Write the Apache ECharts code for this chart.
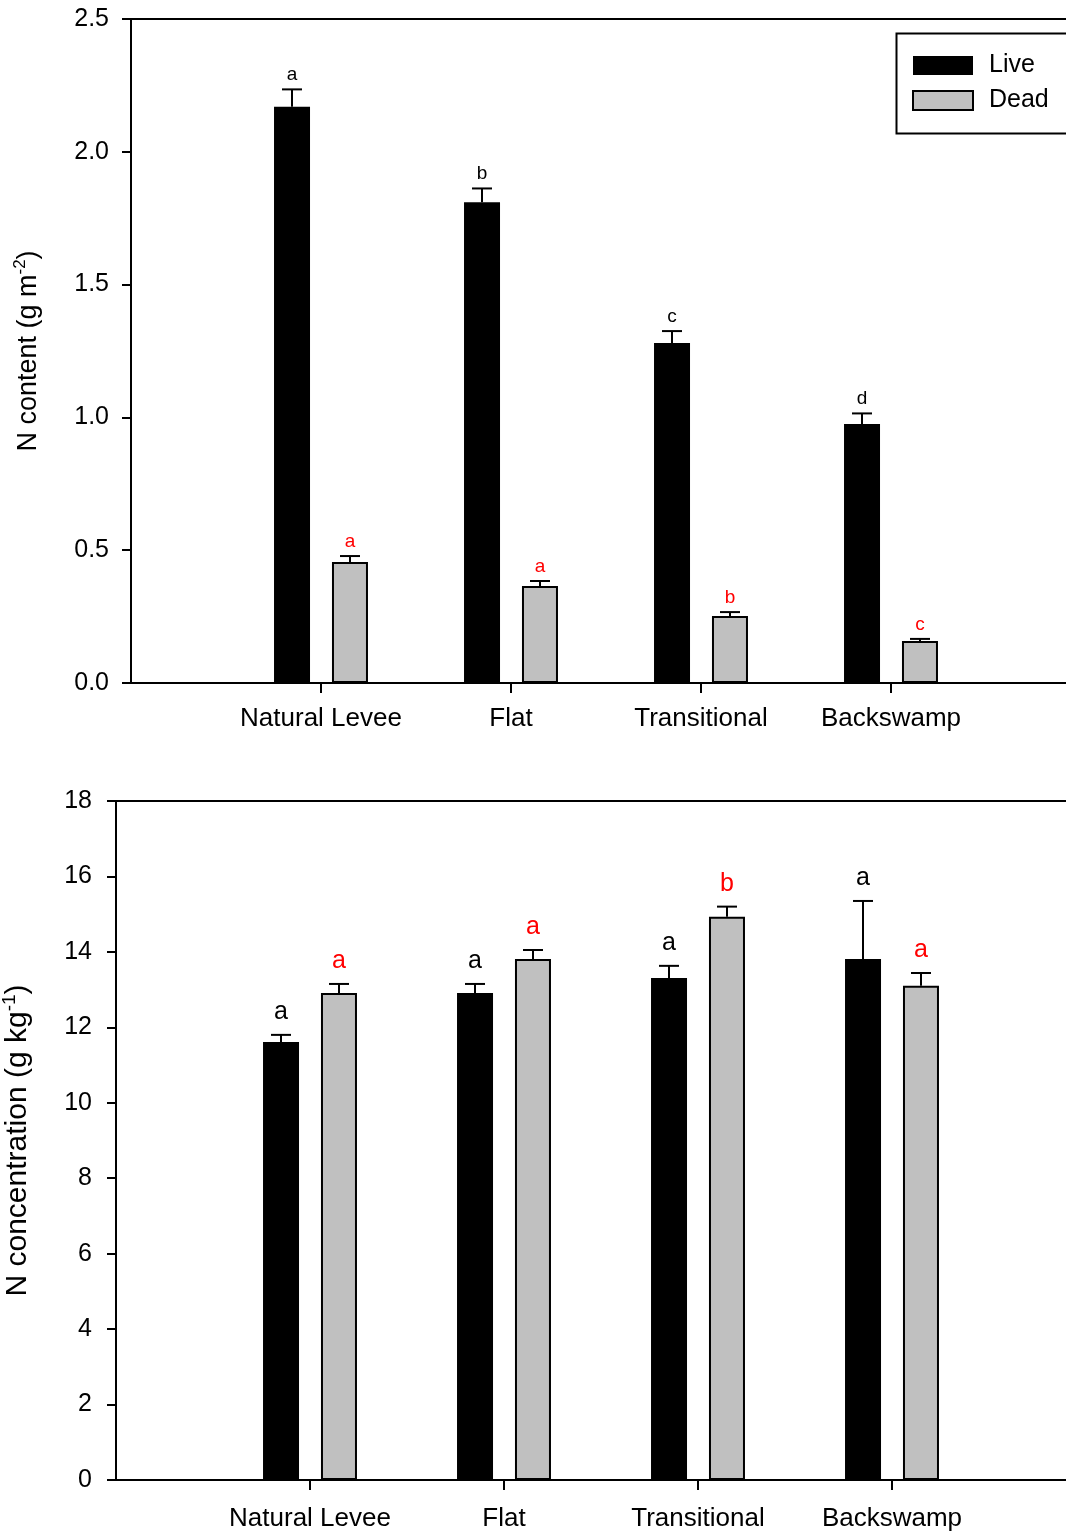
<!DOCTYPE html>
<html>
<head>
<meta charset="utf-8">
<script src="https://cdn.jsdelivr.net/npm/echarts@6/dist/echarts.min.js"></script>
<style>
html,body{margin:0;padding:0;background:#fff;overflow:hidden;}
#chart{width:1066px;height:1534px;}
</style>
</head>
<body>
<div id="chart"></div>
<script>
// ---- data ----
const categories = ['Natural Levee', 'Flat', 'Transitional', 'Backswamp'];
const seriesNames = ['Live', 'Dead'];

// Top panel: N content (g m-2)
const contentLive = [2.17, 1.81, 1.28, 0.975];
const contentLiveErr = [0.065, 0.052, 0.045, 0.040];
const contentDead = [0.456, 0.365, 0.252, 0.158];
const contentDeadErr = [0.022, 0.019, 0.015, 0.008];
const contentLiveLetters = ['a', 'b', 'c', 'd'];
const contentDeadLetters = ['a', 'a', 'b', 'c'];
const contentTicks = [0, 0.5, 1.0, 1.5, 2.0, 2.5];

// Bottom panel: N concentration (g kg-1)
const concLive = [11.61, 12.91, 13.31, 13.81];
const concLiveErr = [0.19, 0.24, 0.32, 1.54];
const concDead = [12.91, 13.81, 14.93, 13.10];
const concDeadErr = [0.24, 0.24, 0.27, 0.34];
const concLiveLetters = ['a', 'a', 'a', 'a'];
const concDeadLetters = ['a', 'a', 'b', 'a'];
const concTicks = [0, 2, 4, 6, 8, 10, 12, 14, 16, 18];

// ---- build ----
const FONT = '"Liberation Sans", Arial, Helvetica, sans-serif';
const axisCats = [''].concat(categories, ['']);
const pad = arr => ['-'].concat(arr, ['-']);

function errSeries(gridIdx, values, errs, letters, offset, letterColor, letterSize, letterGap) {
  return {
    type: 'custom',
    xAxisIndex: gridIdx, yAxisIndex: gridIdx,
    z: 5, clip: false, silent: true,
    data: values.map((v, i) => [i + 1, v, errs[i]]),
    renderItem: function (params, api) {
      const idx = api.value(0);
      const v = api.value(1), e = api.value(2);
      const x = api.coord([idx, 0])[0] + offset;
      const yBar = api.coord([idx, v])[1];
      const yTop = api.coord([idx, v + e])[1];
      return {
        type: 'group',
        children: [
          {type: 'line', shape: {x1: x, y1: yBar, x2: x, y2: yTop}, style: {stroke: '#000', lineWidth: 2}},
          {type: 'line', shape: {x1: x - 10, y1: yTop, x2: x + 10, y2: yTop}, style: {stroke: '#000', lineWidth: 2}},
          {type: 'text', x: x, y: yTop - letterGap,
            style: {text: letters[params.dataIndex], fill: letterColor, font: letterSize + 'px ' + FONT,
              align: 'center', verticalAlign: 'bottom'}}
        ]
      };
    }
  };
}

const barBase = {type: 'bar', barWidth: 36, barGap: '61%'};
const liveStyle = {color: '#000', borderColor: '#000', borderWidth: 0};
const deadStyle = {color: '#c0c0c0', borderColor: '#000', borderWidth: 2};

function xAxisCfg(gridIdx, margin) {
  return {
    type: 'category', gridIndex: gridIdx, data: axisCats, boundaryGap: false,
    axisLine: {lineStyle: {color: '#000', width: 2}},
    axisTick: {length: 10, lineStyle: {color: '#000', width: 2}, interval: (i, v) => v !== '', alignWithLabel: true},
    axisLabel: {color: '#000', fontSize: 26, fontFamily: FONT, margin: margin, interval: 0},
    splitLine: {show: false}
  };
}
function yAxisCfg(gridIdx, ticks, decimals, nameMain, sup, nameGap, nameSize, labelMargin) {
  return {
    type: 'value', gridIndex: gridIdx,
    min: ticks[0], max: ticks[ticks.length - 1], interval: ticks[1] - ticks[0],
    axisLine: {show: true, lineStyle: {color: '#000', width: 2}},
    axisTick: {show: true, length: 9, lineStyle: {color: '#000', width: 2}},
    axisLabel: {color: '#000', fontSize: 25, fontFamily: FONT, margin: labelMargin,
      formatter: v => Number(v).toFixed(decimals)},
    splitLine: {show: false},
    name: '{n|' + nameMain + '}{s|' + sup + '}{n|)}',
    nameLocation: 'middle', nameRotate: 90, nameGap: nameGap,
    nameTextStyle: {
      color: '#000', fontFamily: FONT,
      rich: {
        n: {fontSize: nameSize, fontFamily: FONT, color: '#000', lineHeight: nameSize + 6},
        s: {fontSize: Math.round(nameSize * 0.62), fontFamily: FONT, color: '#000', verticalAlign: 'top', lineHeight: nameSize + 6}
      }
    }
  };
}

const option = {
  backgroundColor: '#fff',
  animation: false,
  textStyle: {fontFamily: FONT},
  legend: {
    data: seriesNames,
    orient: 'vertical', left: 894, top: 31,
    padding: [22, 10, 20, 18],
    icon: 'rect',
    itemWidth: 60, itemHeight: 19, itemGap: 10,
    textStyle: {color: '#000', fontSize: 25, fontFamily: FONT, padding: [0, 0, 0, 11]}
  },
  graphic: [
    {type: 'rect', left: 894, top: 31, shape: {width: 240, height: 100},
      style: {fill: 'none', stroke: '#000', lineWidth: 2}, z: 10, silent: true}
  ],
  grid: [
    {left: 131, top: 19, height: 664, width: 950, outerBoundsMode: 'none', containLabel: false,
      show: true, borderColor: '#000', borderWidth: 2},
    {left: 116, top: 801, height: 679, width: 970, outerBoundsMode: 'none', containLabel: false,
      show: true, borderColor: '#000', borderWidth: 2}
  ],
  xAxis: [xAxisCfg(0, 23), xAxisCfg(1, 26)],
  yAxis: [
    yAxisCfg(0, contentTicks, 1, 'N content (g m', '-2', 86, 27, 22),
    yAxisCfg(1, concTicks, 0, 'N concentration (g kg', '-1', 80, 30, 24)
  ],
  series: [
    Object.assign({}, barBase, {name: 'Live', xAxisIndex: 0, yAxisIndex: 0, data: pad(contentLive), itemStyle: liveStyle}),
    Object.assign({}, barBase, {name: 'Dead', xAxisIndex: 0, yAxisIndex: 0, data: pad(contentDead), itemStyle: deadStyle}),
    Object.assign({}, barBase, {name: 'Live', xAxisIndex: 1, yAxisIndex: 1, data: pad(concLive), itemStyle: liveStyle}),
    Object.assign({}, barBase, {name: 'Dead', xAxisIndex: 1, yAxisIndex: 1, data: pad(concDead), itemStyle: deadStyle}),
    errSeries(0, contentLive, contentLiveErr, contentLiveLetters, -29, '#000', 19, 5),
    errSeries(0, contentDead, contentDeadErr, contentDeadLetters, 29, '#ff0000', 19, 5),
    errSeries(1, concLive, concLiveErr, concLiveLetters, -29, '#000', 25, 10),
    errSeries(1, concDead, concDeadErr, concDeadLetters, 29, '#ff0000', 25, 10)
  ]
};

const chart = echarts.init(document.getElementById('chart'), null, {renderer: 'canvas'});
chart.setOption(option);
</script>
</body>
</html>
